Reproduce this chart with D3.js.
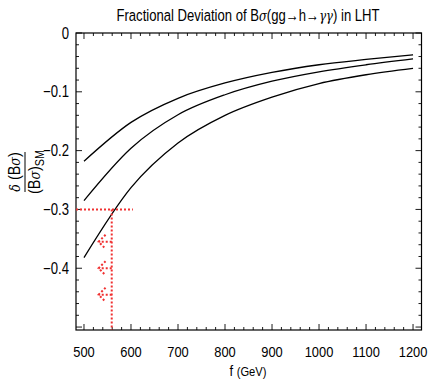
<!DOCTYPE html>
<html>
<head>
<meta charset="UTF-8">
<script src="https://cdn.jsdelivr.net/npm/d3@7"></script>
<style>
  body { margin: 0; background: #fff; }
  text { font-family: "Liberation Sans Narrow", "Liberation Sans", Arial, sans-serif; }
</style>
</head>
<body>
<div id="chart"></div>
<script>
// data
const fValues = [500, 600, 700, 800, 900, 1000, 1100, 1200];
const upper  = [-0.218, -0.152, -0.111, -0.085, -0.067, -0.054, -0.045, -0.037];
const middle = [-0.285, -0.196, -0.139, -0.105, -0.082, -0.066, -0.054, -0.044];
const lower  = [-0.382, -0.263, -0.187, -0.140, -0.109, -0.086, -0.071, -0.060];
const xTicks = [500, 600, 700, 800, 900, 1000, 1100, 1200];
const yTicks = [0, -0.1, -0.2, -0.3, -0.4];
const cutY = -0.3, cutF = 559, cutFEnd = 604;
const arrowY = [-0.355, -0.40, -0.445];
const arrowTip = 531;

const W = 428, H = 381;
const margin = {top: 33, right: 6.5, bottom: 51, left: 76};

const svg = d3.select("#chart").append("svg")
    .attr("width", W).attr("height", H);

const x = d3.scaleLinear().domain([483, 1218]).range([margin.left, W - margin.right]);
const y = d3.scaleLinear().domain([-0.505, 0]).range([H - margin.bottom, margin.top]);

// condensed text: place at (px, py) and squeeze horizontally
function narrowText(parent, px, py, size, sx, anchor) {
  return parent.append("text")
      .attr("transform", `translate(${px},${py}) scale(${sx},1)`)
      .attr("text-anchor", anchor || "middle")
      .style("font-size", size + "px");
}
function greek(t, s, size) {
  t.append("tspan").style("font-style", "italic").style("font-family", "DejaVu Serif")
    .style("font-size", size + "px").text(s);
}

// frame
svg.append("rect")
    .attr("x", x.range()[0]).attr("y", y.range()[1])
    .attr("width", x.range()[1] - x.range()[0])
    .attr("height", y.range()[0] - y.range()[1])
    .style("fill", "none").style("stroke", "#000").style("stroke-width", 1.2);

// ticks (inward) on all four sides
const xMinor = d3.range(500, 1201, 20);
const yMinor = d3.range(0, -0.501, -0.02);
const tk = svg.append("g").style("stroke", "#000").style("stroke-width", 0.9);
xMinor.forEach(v => {
  const len = (v % 100 === 0) ? 6 : 3;
  tk.append("line").attr("x1", x(v)).attr("x2", x(v))
    .attr("y1", y.range()[0]).attr("y2", y.range()[0] - len);
  tk.append("line").attr("x1", x(v)).attr("x2", x(v))
    .attr("y1", y.range()[1]).attr("y2", y.range()[1] + len);
});
yMinor.forEach(v => {
  const major = Math.abs(Math.round(v * 10) - v * 10) < 1e-6;
  const len = major ? 6 : 3;
  tk.append("line").attr("y1", y(v)).attr("y2", y(v))
    .attr("x1", x.range()[0]).attr("x2", x.range()[0] + len);
  tk.append("line").attr("y1", y(v)).attr("y2", y(v))
    .attr("x1", x.range()[1]).attr("x2", x.range()[1] - len);
});

// tick labels
xTicks.forEach(d => narrowText(svg, x(d), 357, 15, 0.86).text(d));
yTicks.forEach(d => narrowText(svg, 69, y(d) + 5.6, 16, 0.82, "end")
    .text(d === 0 ? "0" : "\u2212" + Math.abs(d).toFixed(1)));

// curves
const line = d3.line().x(d => x(d[0])).y(d => y(d[1])).curve(d3.curveMonotoneX);
[upper, middle, lower].forEach(s => {
  svg.append("path")
    .datum(fValues.map((f, i) => [f, s[i]]))
    .attr("d", line)
    .style("fill", "none").style("stroke", "#000").style("stroke-width", 1.3);
});

// red dotted guides
const red = svg.append("g").style("stroke", "#f03030").style("stroke-width", 2)
    .style("stroke-dasharray", "2,2").style("fill", "none");
red.append("line").attr("x1", x.range()[0]).attr("x2", x(cutFEnd))
    .attr("y1", y(cutY)).attr("y2", y(cutY));
red.append("line").attr("x1", x(cutF)).attr("x2", x(cutF))
    .attr("y1", y(cutY)).attr("y2", y.range()[0]);
arrowY.forEach(v => {
  const tx = x(arrowTip), ty = y(v);
  red.append("line").attr("x1", x(cutF)).attr("x2", tx).attr("y1", ty).attr("y2", ty);
  red.append("path").attr("d", `M${tx + 7},${ty - 7}L${tx},${ty}L${tx + 7},${ty + 7}`);
});

// title
const title = narrowText(svg, 248, 21, 17, 0.77);
title.append("tspan").text("Fractional Deviation of B");
greek(title, "\u03c3", 15);
title.append("tspan").text("(gg\u2192h\u2192");
greek(title, "\u03b3\u03b3", 15);
title.append("tspan").text(") in LHT");

// x label
const xl = narrowText(svg, 248, 376, 15, 0.86);
xl.append("tspan").text("f ");
xl.append("tspan").style("font-size", "13px").text("(GeV)");

// y label (fraction, rotated)
const yl = svg.append("g").attr("transform", "translate(25,172) rotate(-90)");
const num = narrowText(yl, 0, -5, 16, 0.9);
greek(num, "\u03b4", 14);
num.append("tspan").text(" (B");
greek(num, "\u03c3", 14);
num.append("tspan").text(")");
yl.append("line").attr("x1", -20).attr("x2", 20).attr("y1", 0).attr("y2", 0)
    .style("stroke", "#000").style("stroke-width", 1);
const den = narrowText(yl, 0, 15, 16, 0.9);
den.append("tspan").text("(B");
greek(den, "\u03c3", 14);
den.append("tspan").text(")");
den.append("tspan").attr("dy", 4).style("font-size", "12px").text("SM");
</script>
</body>
</html>
